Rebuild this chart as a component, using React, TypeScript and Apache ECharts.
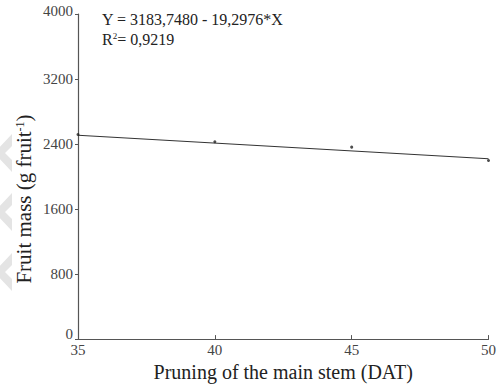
import React, { useEffect, useRef } from "react";
import * as echarts from "echarts";

const xTicks = [35, 40, 45, 50];
const observedX = [35, 40, 45, 50];
const observedY = [2517, 2428, 2362, 2197];
const fitX = [35, 50];
const fitY = [2508, 2219];
const equationText = "Y = 3183,7480 - 19,2976*X";
const r2Value = "0,9219";
const yTitle = "Fruit mass (g fruit{sup|-1})";
const xTitle = "Pruning of the main stem (DAT)";
const watermarkCenters = [153, 212, 272];

export default function App() {
  const ref = useRef<HTMLDivElement>(null);
  useEffect(() => {
    document.body.style.margin = "0";
    const chart = echarts.init(ref.current!, null, { renderer: "svg" });
    const font = "Liberation Serif";
    const chevrons = watermarkCenters.map((c) => ({
      type: "polygon",
      z: -10,
      shape: {
        points: [
          [12, c - 19],
          [-6, c],
          [12, c + 19],
          [12, c + 7],
          [5, c],
          [12, c - 7],
        ],
      },
      style: { fill: "#e4e4e4" },
    }));
    chart.setOption({
      animation: false,
      backgroundColor: "#ffffff",
      grid: { left: 78, right: 6, top: 14, bottom: 44, containLabel: false },
      xAxis: {
        type: "value",
        min: 35,
        max: 50,
        interval: 5,
        name: xTitle,
        nameLocation: "middle",
        nameGap: 19,
        nameTextStyle: { fontFamily: font, fontSize: 20, color: "#222" },
        axisLine: { lineStyle: { color: "#555", width: 1.2 } },
        axisTick: { inside: true, length: 4, lineStyle: { color: "#555" } },
        axisLabel: {
          fontFamily: font,
          fontSize: 15,
          color: "#444",
          margin: 3,
          formatter: (v: number) => (xTicks.includes(v) ? String(v) : ""),
        },
        splitLine: { show: false },
      },
      yAxis: {
        type: "value",
        min: 0,
        max: 4000,
        interval: 800,
        axisLine: { show: true, lineStyle: { color: "#555", width: 1.2 } },
        axisTick: { show: true, length: 3, lineStyle: { color: "#555" } },
        axisLabel: {
          fontFamily: font,
          fontSize: 15,
          color: "#444",
          margin: 5,
          formatter: (v: number) => (v === 0 ? "{low|0}" : v === 4000 ? "{high|4000}" : String(v)),
          rich: {
            low: { fontFamily: font, fontSize: 15, color: "#444", padding: [0, 0, 10, 0] },
            high: { fontFamily: font, fontSize: 15, color: "#444", padding: [0, 0, 6, 0] },
          },
        },
        splitLine: { show: false },
      },
      graphic: [
        ...chevrons,
        {
          type: "text",
          x: 24,
          y: 199,
          rotation: Math.PI / 2,
          style: {
            text: yTitle,
            fontFamily: font,
            fontSize: 21,
            fill: "#222",
            align: "center",
            verticalAlign: "middle",
            rich: { sup: { fontFamily: font, fontSize: 12, verticalAlign: "top", fill: "#222", padding: [0, 0, 8, 0] } },
          },
        },
        {
          type: "text",
          left: 102,
          top: 11,
          style: { text: equationText, fontFamily: font, fontSize: 16, fill: "#222" },
        },
        {
          type: "text",
          left: 102,
          top: 31,
          style: {
            text: "R{sup|2}= " + r2Value,
            fontFamily: font,
            fontSize: 16,
            fill: "#222",
            rich: { sup: { fontFamily: font, fontSize: 9, verticalAlign: "top", fill: "#222" } },
          },
        },
      ],
      series: [
        {
          type: "line",
          data: fitX.map((x, i) => [x, fitY[i]]),
          showSymbol: false,
          lineStyle: { color: "#333", width: 1.2 },
          z: 2,
        },
        {
          type: "scatter",
          data: observedX.map((x, i) => [x, observedY[i]]),
          symbol: "circle",
          symbolSize: 3,
          itemStyle: { color: "#222" },
          z: 3,
        },
      ],
    });
    return () => chart.dispose();
  }, []);
  return <div ref={ref} style={{ width: 499, height: 387 }} />;
}
